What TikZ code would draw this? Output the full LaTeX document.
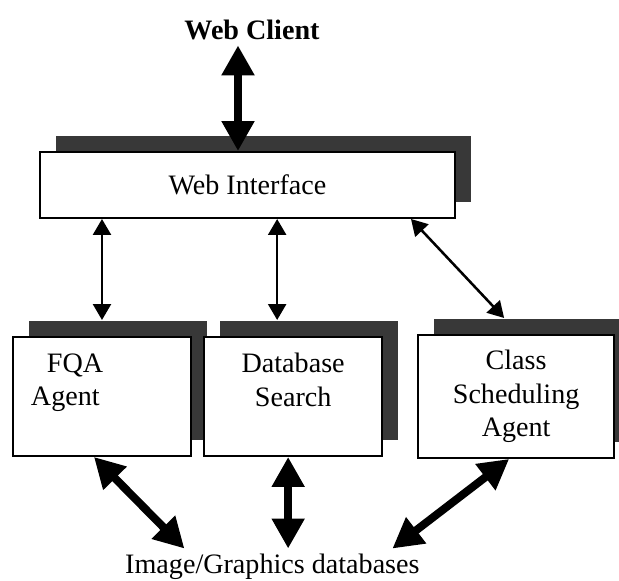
\documentclass[tikz,border=0pt]{standalone}
\usepackage{fontspec}
\setmainfont{Liberation Serif}
\usepackage{tikz}
\usetikzlibrary{arrows.meta,positioning,shadows}

\begin{document}
\begin{tikzpicture}[
  every node/.style={font=\fontsize{20}{24}\selectfont},
  box/.style={draw,line width=1.4pt,fill=white,align=center,
    drop shadow={shadow xshift=0.4cm,shadow yshift=0.4cm,fill=black!78,opacity=1}},
  link/.style={draw,line width=1.8pt,{Triangle[width=0.45cm,length=0.4cm]}-{Triangle[width=0.45cm,length=0.4cm]}},
  fat/.style={draw,line width=0.2cm,{Triangle[width=0.78cm,length=0.75cm]}-{Triangle[width=0.78cm,length=0.75cm]}}]

\useasboundingbox (0,0) rectangle (15.475,-14.525);

\node[box,minimum width=10.375cm,minimum height=1.65cm] (web) at (6.1875,-4.625) {Web Interface};
\node[font=\fontsize{20}{24}\selectfont\bfseries,anchor=base] (client) at (6.3,-1.0) {Web Client};

\node[box,anchor=north west,minimum width=4.45cm,minimum height=2.975cm,text width=3.55cm,align=left] (fqa) at (0.3,-8.4) {\hspace*{0.4cm}FQA\\Agent\\\mbox{}};
\node[box,right=0.28cm of fqa,minimum width=4.45cm,minimum height=2.975cm] (dbs) {Database\\Search\\\mbox{}};
\node[box,right=0.85cm of dbs,minimum width=4.9cm,minimum height=3.075cm] (csa) {Class\\Scheduling\\Agent};
\node[anchor=base] (img) at (6.81,-14.325) {Image/Graphics databases};

\draw[fat] ([xshift=-0.35cm]client.south) -- ([xshift=-0.35cm]client.south |- web.north);
\draw[link] (fqa.north |- web.south) -- ([yshift=0.4cm]fqa.north);
\draw[link] ([xshift=-0.4cm]dbs.north |- web.south) -- ([shift={(-0.4cm,0.4cm)}]dbs.north);
\draw[link] ([xshift=-1.125cm]web.south east) -- ([shift={(-0.3cm,0.4cm)}]csa.north);

\draw[fat] ([xshift=-0.2cm]fqa.south) -- ([xshift=-2.2cm]img.north);
\draw[fat] ([xshift=-0.125cm]dbs.south) -- ([xshift=-0.125cm]dbs.south |- img.north);
\draw[fat] ([xshift=-0.175cm]csa.south) -- ([xshift=3cm]img.north);
\end{tikzpicture}
\end{document}
